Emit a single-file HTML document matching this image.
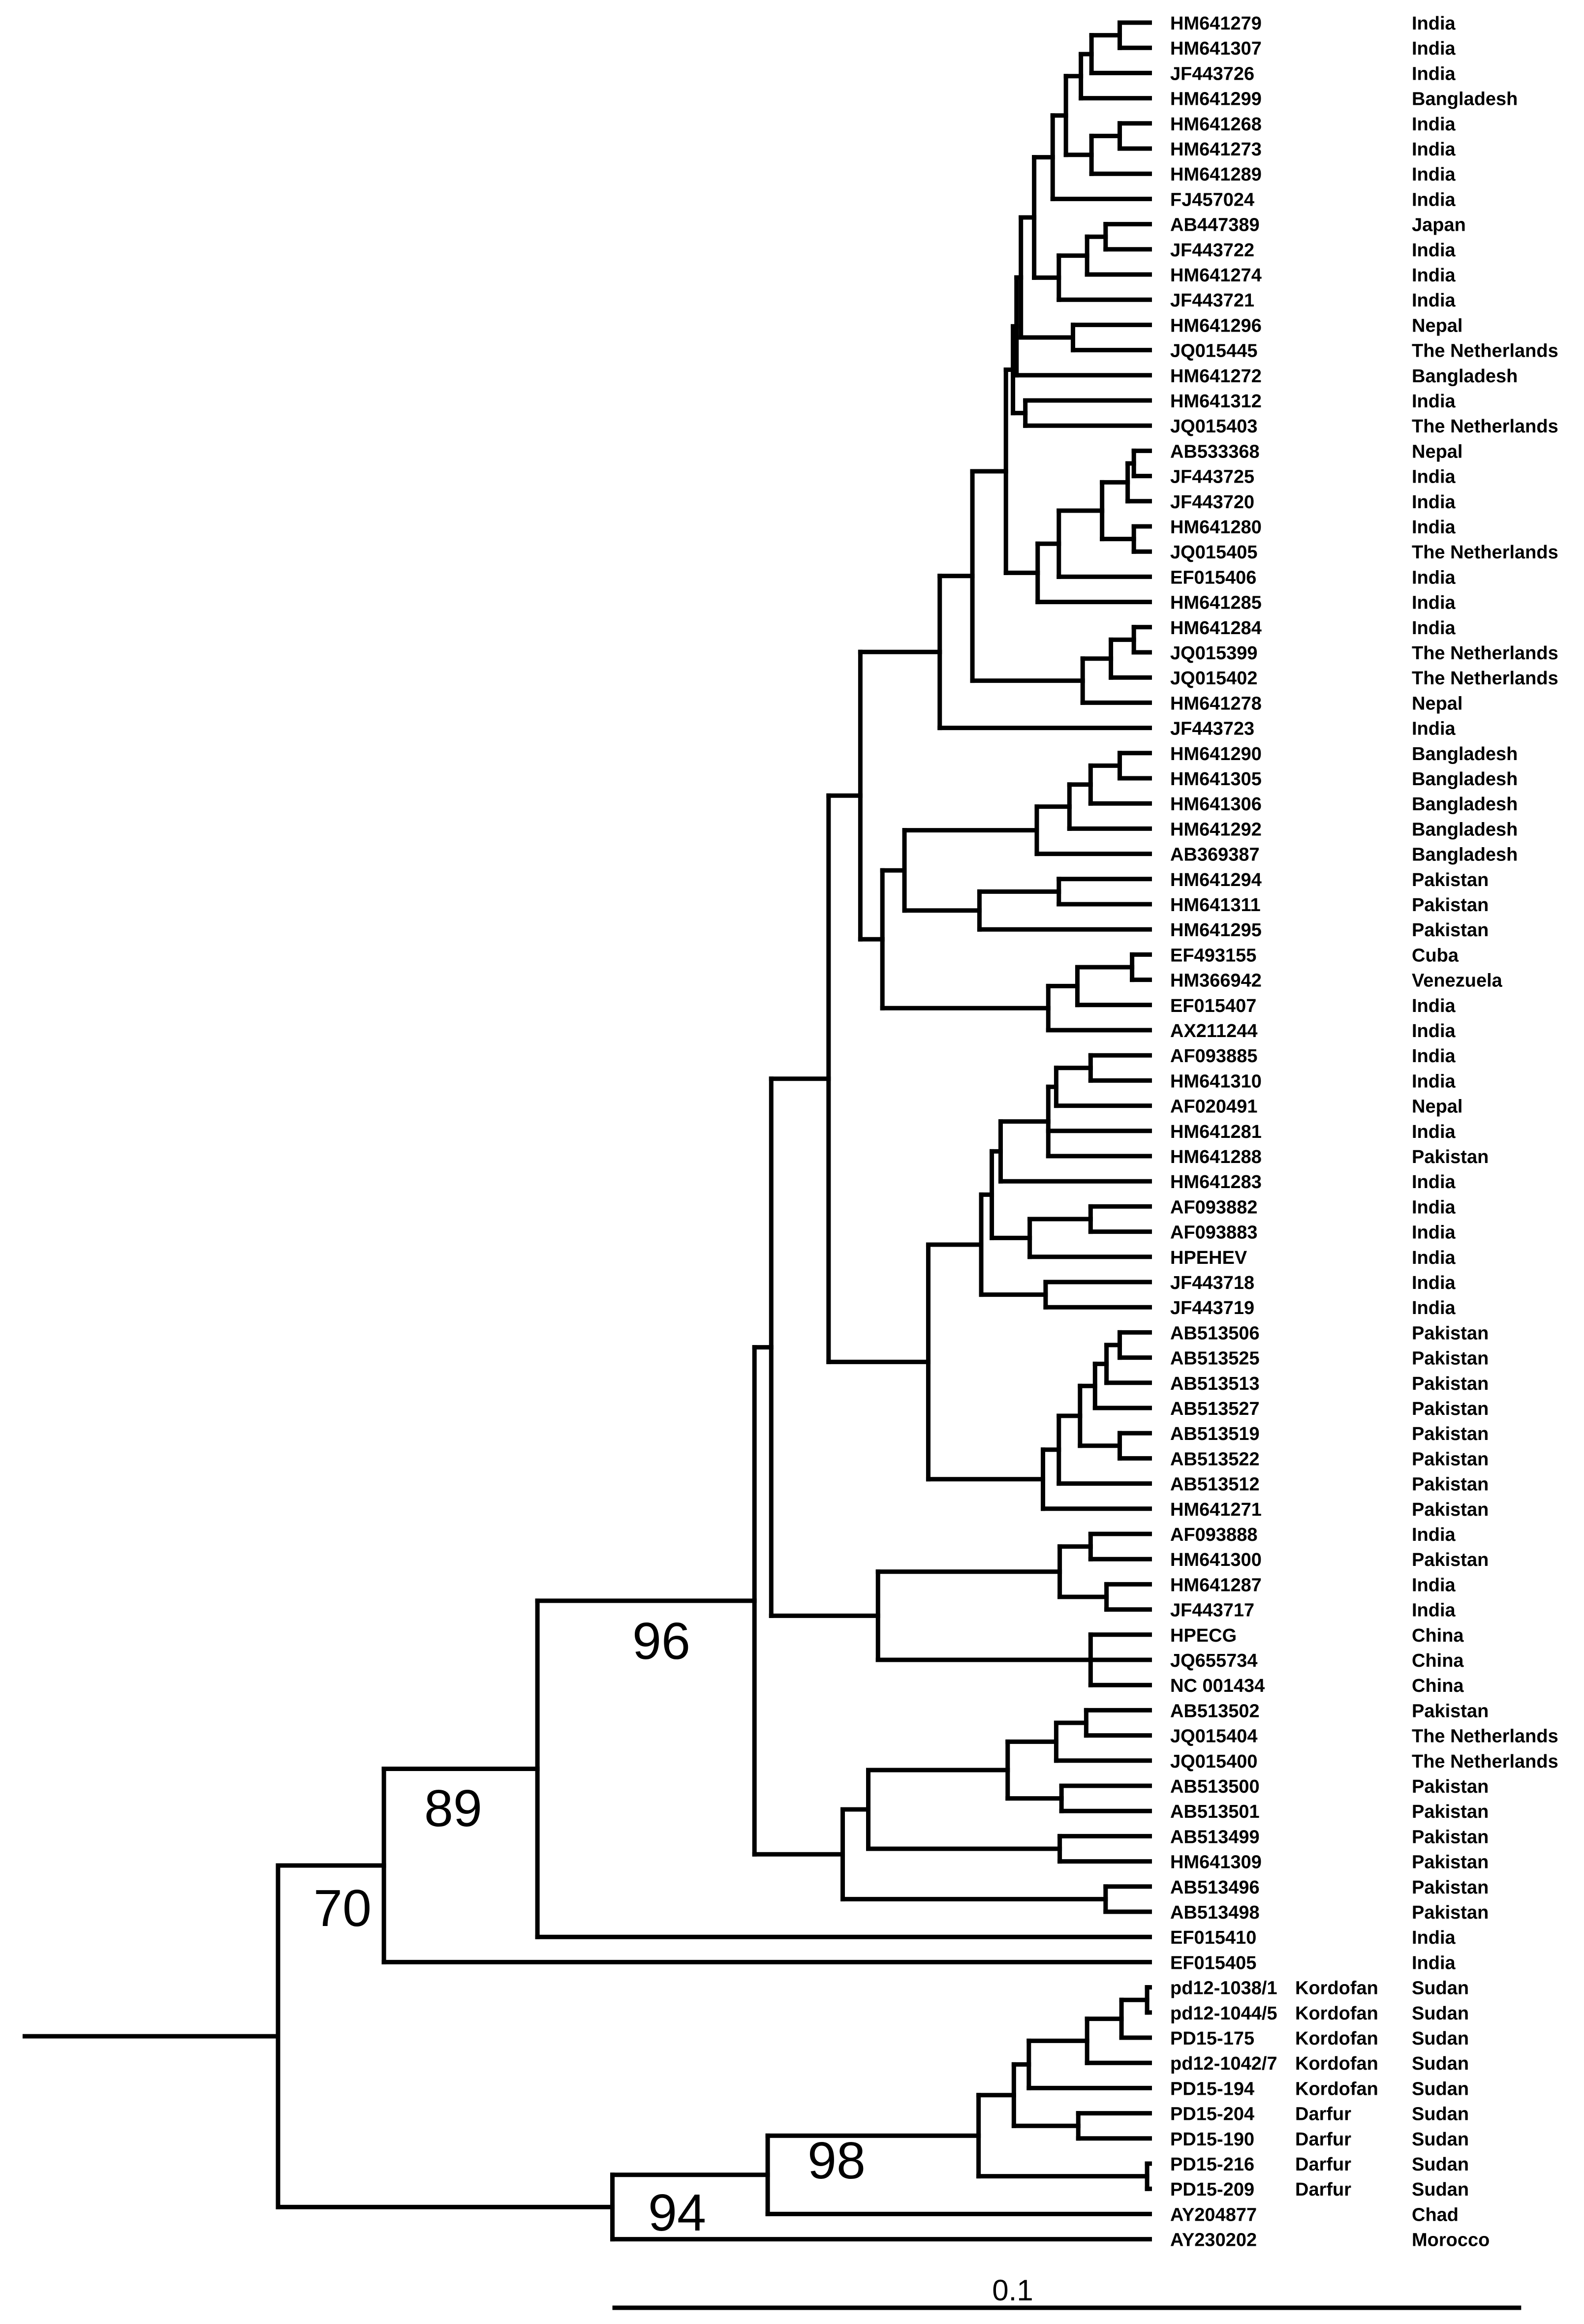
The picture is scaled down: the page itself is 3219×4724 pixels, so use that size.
<!DOCTYPE html>
<html><head><meta charset="utf-8"><style>
html,body{margin:0;padding:0;background:#fff;}
svg{display:block;}
.lab{font-family:"Liberation Sans",Arial,sans-serif;font-weight:bold;font-size:38px;fill:#000;}
.sup{font-family:"Liberation Sans",Arial,sans-serif;font-size:106px;fill:#000;}
.sc{font-family:"Liberation Sans",Arial,sans-serif;font-size:60px;fill:#000;}
</style></head><body>
<svg id="tree" width="3219" height="4724" viewBox="0 0 3219 4724" xmlns="http://www.w3.org/2000/svg">
<g id="branches" stroke="#000" stroke-width="9" stroke-linecap="square" fill="none"></g>
<g id="labels"></g>
<text class="sup" x="696" y="3915" text-anchor="middle">70</text>
<text class="sup" x="921" y="3712" text-anchor="middle">89</text>
<text class="sup" x="1344" y="3372" text-anchor="middle">96</text>
<text class="sup" x="1700" y="4428" text-anchor="middle">98</text>
<text class="sup" x="1376" y="4534" text-anchor="middle">94</text>
<g id="scalebar"></g>
</svg>
<script>
const leafNames = ["HM641279","HM641307","JF443726","HM641299","HM641268","HM641273","HM641289","FJ457024","AB447389","JF443722","HM641274","JF443721","HM641296","JQ015445","HM641272","HM641312","JQ015403","AB533368","JF443725","JF443720","HM641280","JQ015405","EF015406","HM641285","HM641284","JQ015399","JQ015402","HM641278","JF443723","HM641290","HM641305","HM641306","HM641292","AB369387","HM641294","HM641311","HM641295","EF493155","HM366942","EF015407","AX211244","AF093885","HM641310","AF020491","HM641281","HM641288","HM641283","AF093882","AF093883","HPEHEV","JF443718","JF443719","AB513506","AB513525","AB513513","AB513527","AB513519","AB513522","AB513512","HM641271","AF093888","HM641300","HM641287","JF443717","HPECG","JQ655734","NC 001434","AB513502","JQ015404","JQ015400","AB513500","AB513501","AB513499","HM641309","AB513496","AB513498","EF015410","EF015405","pd12-1038/1","pd12-1044/5","PD15-175","pd12-1042/7","PD15-194","PD15-204","PD15-190","PD15-216","PD15-209","AY204877","AY230202"];
const leafCountries = ["India","India","India","Bangladesh","India","India","India","India","Japan","India","India","India","Nepal","The Netherlands","Bangladesh","India","The Netherlands","Nepal","India","India","India","The Netherlands","India","India","India","The Netherlands","The Netherlands","Nepal","India","Bangladesh","Bangladesh","Bangladesh","Bangladesh","Bangladesh","Pakistan","Pakistan","Pakistan","Cuba","Venezuela","India","India","India","India","Nepal","India","Pakistan","India","India","India","India","India","India","Pakistan","Pakistan","Pakistan","Pakistan","Pakistan","Pakistan","Pakistan","Pakistan","India","Pakistan","India","India","China","China","China","Pakistan","The Netherlands","The Netherlands","Pakistan","Pakistan","Pakistan","Pakistan","Pakistan","Pakistan","India","India","Sudan","Sudan","Sudan","Sudan","Sudan","Sudan","Sudan","Sudan","Sudan","Chad","Morocco"];
const leafRegions = {78:"Kordofan",79:"Kordofan",80:"Kordofan",81:"Kordofan",82:"Kordofan",83:"Darfur",84:"Darfur",85:"Darfur",86:"Darfur"};
// tree: [depth (x0.001 substitutions/site), children...]; leaves are indices
const tipDepth = 98.8;
const rootStub = -28.7;
const treeData = [0,
 [12.0,
  [29.4,
   [54.0,
    [55.9,
     [62.4,
      [66.0,
       [75.0,
        [78.7,
         [82.5,
          [83.3,
           [83.7,
            [84.2,
             [85.7,
              [87.8,
               [89.3,[91.0,[92.2,[95.4,0,1],2],3],[92.2,[95.4,4,5],6]],
               7],
              [88.5,[91.7,[93.8,8,9],10],11]],
             [90.1,12,13]],
            14],
           [84.7,15,16]],
          [86.1,[88.5,[93.4,[96.3,[97.0,17,18],19],[97.0,20,21]],22],23]],
         [91.2,[94.4,[97.0,24,25],26],27]],
        28],
       [68.5,
        [71.0,[86.0,[89.7,[92.1,[95.4,29,30],31],32],33],[79.5,[88.5,34,35],36]],
        [87.3,[90.6,[96.8,37,38],39],40]]],
      [73.7,
       [79.7,
        [80.9,
         [81.9,[87.3,[88.2,[92.1,41,42],43],44,45],46],
         [85.2,[92.1,47,48],49]],
        [87.0,50,51]],
       [86.7,[88.5,[90.9,[92.6,[93.9,[95.4,52,53],54],55],[95.4,56,57]],58],59]]],
     [68.0,[88.6,[92.1,60,61],[93.9,62,63]],[92.1,64,65,66]]],
    [64.0,[66.9,[82.7,[88.2,[91.6,67,68],69],[88.8,70,71]],[88.6,72,73]],[93.8,74,75]]],
   76],
  77],
 [37.9,[55.5,[79.4,[83.4,[85.1,[91.7,[95.6,[98.5,78,79],80],81],82],[90.7,83,84]],[98.5,85,86]],87],88]];
const scaleStart = 37.9;
const scaleLength = 103;
const scaleLabel = "0.1";

const NS = "http://www.w3.org/2000/svg";
function xS(d){ return 565 + d*17.93; }
function yS(i){ return 46 + i*51.2; }
const gB = document.getElementById('branches');
const gL = document.getElementById('labels');
function line(x1,y1,x2,y2,name){
  const l = document.createElementNS(NS,'line');
  l.setAttribute('x1',x1);l.setAttribute('y1',y1);l.setAttribute('x2',x2);l.setAttribute('y2',y2);
  
  
  gB.appendChild(l);
}
function draw(node){
  if(typeof node === 'number') return {y:yS(node), d:tipDepth};
  const d = node[0];
  const kids = node.slice(1).map(draw);
  const y = (kids[0].y + kids[kids.length-1].y)/2;
  const x = xS(d);
  line(x,kids[0].y,x,kids[kids.length-1].y,'node-vertical');
  node.slice(1).forEach((c,k)=>{
    line(x,kids[k].y,xS(kids[k].d),kids[k].y, typeof c==='number' ? 'leaf-branch' : 'internal-branch');
  });
  return {y:y, d:d};
}
const root = draw(treeData);
line(xS(rootStub),root.y,xS(0),root.y,'root-branch');

function txt(x,y,s,name){
  const t = document.createElementNS(NS,'text');
  t.setAttribute('x',x);t.setAttribute('y',y);t.setAttribute('class','lab');
  t.textContent = s;
  
  
  gL.appendChild(t);
}
leafNames.forEach((n,i)=>{
  const y = yS(i)+14;
  txt(2378,y,n,'accession-label');
  if(leafRegions[i]) txt(2632,y,leafRegions[i],'region-label');
  txt(2869,y,leafCountries[i],'country-label');
});
const gS = document.getElementById('scalebar');
const sl = document.createElementNS(NS,'line');
sl.setAttribute('x1',xS(scaleStart));sl.setAttribute('x2',xS(scaleStart+scaleLength));
sl.setAttribute('y1',4691);sl.setAttribute('y2',4691);
sl.setAttribute('stroke','#000');sl.setAttribute('stroke-width','9');


gS.appendChild(sl);
const st = document.createElementNS(NS,'text');
st.setAttribute('x',2058);
st.setAttribute('y',4676);st.setAttribute('text-anchor','middle');st.setAttribute('class','sc');
st.textContent = scaleLabel;


gS.appendChild(st);
</script>
</body></html>
